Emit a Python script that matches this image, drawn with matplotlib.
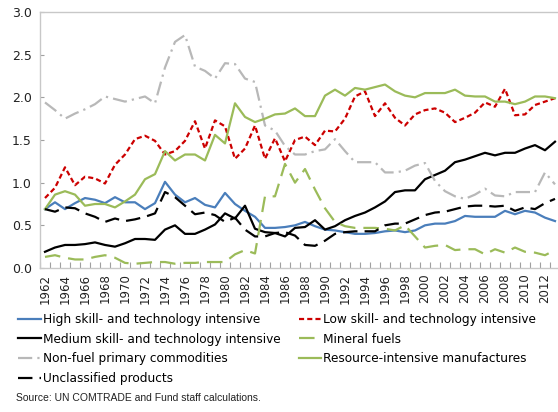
import matplotlib
matplotlib.use("Agg")
import matplotlib.pyplot as plt
import numpy as np

# -----------------------
# Data
# -----------------------
years = list(range(1962, 2014))

high_tech = [0.69, 0.77, 0.69, 0.76, 0.82, 0.80, 0.76, 0.83, 0.77, 0.77, 0.69, 0.76,
             1.01, 0.86, 0.77, 0.82, 0.74, 0.71, 0.88, 0.75, 0.67, 0.60, 0.47, 0.47,
             0.48, 0.50, 0.54, 0.49, 0.45, 0.44, 0.42, 0.40, 0.40, 0.41, 0.43, 0.44,
             0.42, 0.44, 0.50, 0.52, 0.52, 0.55, 0.61, 0.60, 0.60, 0.60, 0.67, 0.63,
             0.67, 0.65, 0.59, 0.55]
low_tech = [0.82, 0.94, 1.18, 0.97, 1.07, 1.05, 0.99, 1.21, 1.33, 1.51, 1.55, 1.49,
            1.33, 1.37, 1.49, 1.72, 1.40, 1.73, 1.66, 1.28, 1.40, 1.67, 1.28, 1.52,
            1.25, 1.50, 1.54, 1.44, 1.61, 1.60, 1.75, 2.01, 2.07, 1.78, 1.93, 1.76,
            1.67, 1.80, 1.85, 1.87, 1.82, 1.71, 1.76, 1.82, 1.94, 1.89, 2.10, 1.79,
            1.80, 1.91, 1.95, 1.99]
medium_tech = [0.19, 0.24, 0.27, 0.27, 0.28, 0.30, 0.27, 0.25, 0.29, 0.34, 0.34, 0.33,
               0.45, 0.50, 0.40, 0.40, 0.45, 0.51, 0.64, 0.58, 0.73, 0.46, 0.42, 0.41,
               0.37, 0.47, 0.48, 0.56, 0.45, 0.49, 0.56, 0.61, 0.65, 0.71, 0.78, 0.89,
               0.91, 0.91, 1.04, 1.09, 1.14, 1.24, 1.27, 1.31, 1.35, 1.32, 1.35, 1.35,
               1.40, 1.44, 1.38, 1.48]
mineral_fuels = [0.13, 0.15, 0.12, 0.10, 0.10, 0.13, 0.15, 0.12, 0.06, 0.05, 0.06, 0.07,
                 0.07, 0.05, 0.06, 0.06, 0.07, 0.07, 0.07, 0.16, 0.21, 0.17, 0.84, 0.84,
                 1.22, 1.00, 1.16, 0.92, 0.70, 0.54, 0.49, 0.47, 0.47, 0.47, 0.46, 0.44,
                 0.50, 0.37, 0.24, 0.26, 0.27, 0.21, 0.22, 0.22, 0.16, 0.22, 0.18, 0.24,
                 0.19, 0.18, 0.15, 0.21]
non_fuel = [1.94, 1.85, 1.75, 1.81, 1.86, 1.92, 2.01, 1.98, 1.95, 1.98, 2.01, 1.93,
            2.35, 2.65, 2.73, 2.36, 2.31, 2.22, 2.40, 2.39, 2.22, 2.18, 1.67, 1.61,
            1.43, 1.33, 1.33, 1.37, 1.39, 1.51, 1.37, 1.24, 1.24, 1.24, 1.12, 1.12,
            1.14, 1.20, 1.23, 1.02, 0.90, 0.84, 0.81, 0.86, 0.93, 0.85, 0.84, 0.89,
            0.89, 0.89, 1.12, 0.98]
resource = [0.69, 0.86, 0.90, 0.86, 0.73, 0.75, 0.75, 0.71, 0.78, 0.86, 1.04, 1.10,
            1.37, 1.26, 1.33, 1.33, 1.26, 1.56, 1.46, 1.93, 1.77, 1.71, 1.75, 1.80,
            1.81, 1.87, 1.78, 1.78, 2.02, 2.09, 2.02, 2.11, 2.09, 2.12, 2.15, 2.07,
            2.02, 2.00, 2.05, 2.05, 2.05, 2.09, 2.02, 2.01, 2.01, 1.95, 1.95, 1.92,
            1.95, 2.01, 2.01, 1.99]
unclassified = [0.69, 0.66, 0.71, 0.70, 0.64, 0.60, 0.54, 0.58, 0.55, 0.57, 0.60, 0.64,
                0.89, 0.83, 0.73, 0.63, 0.65, 0.62, 0.54, 0.59, 0.45, 0.37, 0.37, 0.41,
                0.42, 0.38, 0.27, 0.26, 0.32, 0.40, 0.42, 0.43, 0.43, 0.43, 0.50, 0.52,
                0.52, 0.57, 0.62, 0.65, 0.66, 0.69, 0.72, 0.73, 0.73, 0.72, 0.73, 0.67,
                0.71, 0.69, 0.76, 0.81]

# -----------------------
# Plot
# -----------------------
x = np.arange(len(years))
lw = 1.6

fig = plt.figure(figsize=(5.58, 4.12), dpi=100)
ax = fig.add_axes([40 / 558, 1 - 268 / 412, 520 / 558, 256 / 412])

l_high, = ax.plot(x, high_tech, color="#4a7ebb", lw=lw, label="High skill- and technology intensive")
l_low, = ax.plot(x, low_tech, color="#cc0000", lw=lw, dashes=(2.3, 1.4),
                 label="Low skill- and technology intensive")
l_med, = ax.plot(x, medium_tech, color="black", lw=lw, label="Medium skill- and technology intensive")
l_min, = ax.plot(x, mineral_fuels, color="#9bbb59", lw=lw, dashes=(7, 3.6), label="Mineral fuels")
l_nf, = ax.plot(x, non_fuel, color="#b8b8b8", lw=lw, dashes=(6.4, 2.3, 1, 2.3),
                label="Non-fuel primary commodities")
l_res, = ax.plot(x, resource, color="#9bbb59", lw=lw, label="Resource-intensive manufactures")
l_unc, = ax.plot(x, unclassified, color="black", lw=lw, dashes=(6.5, 3.2), label="Unclassified products")

# -----------------------
# Formatting
# -----------------------
ax.set_xlim(-0.5, len(years) - 0.5)
ax.set_ylim(0, 3.0)
ax.set_yticks(np.arange(0, 3.01, 0.5))
ax.set_yticklabels([f"{v:.1f}" for v in np.arange(0, 3.01, 0.5)], fontsize=9, color="#222222")

ax.set_xticks(x[::2])
ax.set_xticklabels([str(y) for y in years[::2]], rotation=90, fontsize=8.5, color="#222222")
ax.set_xticks(x - 0.5, minor=True)
ax.tick_params(axis="x", which="major", length=0, pad=4)
ax.tick_params(axis="x", which="minor", direction="in", length=4, color="#a0a0a0", width=0.8)
ax.tick_params(axis="y", direction="in", length=3, color="#a0a0a0", width=0.8, pad=6)

for side in ["left", "bottom", "top"]:
    ax.spines[side].set_color("#c8c8c8")
    ax.spines[side].set_linewidth(1.0)
ax.spines["right"].set_visible(False)

handles = [l_high, l_med, l_nf, l_unc, l_low, l_min, l_res]
fig.legend(handles=handles, labels=[h.get_label() for h in handles],
           loc="upper left", bbox_to_anchor=(18 / 558, 1 - 313 / 412), ncol=2,
           frameon=False, fontsize=8.7, handlelength=1.9, handletextpad=0.15,
           columnspacing=1.5, labelspacing=0.55, borderaxespad=0, borderpad=0)

fig.text(16 / 558, 1 - 398 / 412, "Source: UN COMTRADE and Fund staff calculations.",
         fontsize=7.5, va="center", ha="left", family="Liberation Sans", color="#222222")

fig.savefig("out.png", dpi=100)
